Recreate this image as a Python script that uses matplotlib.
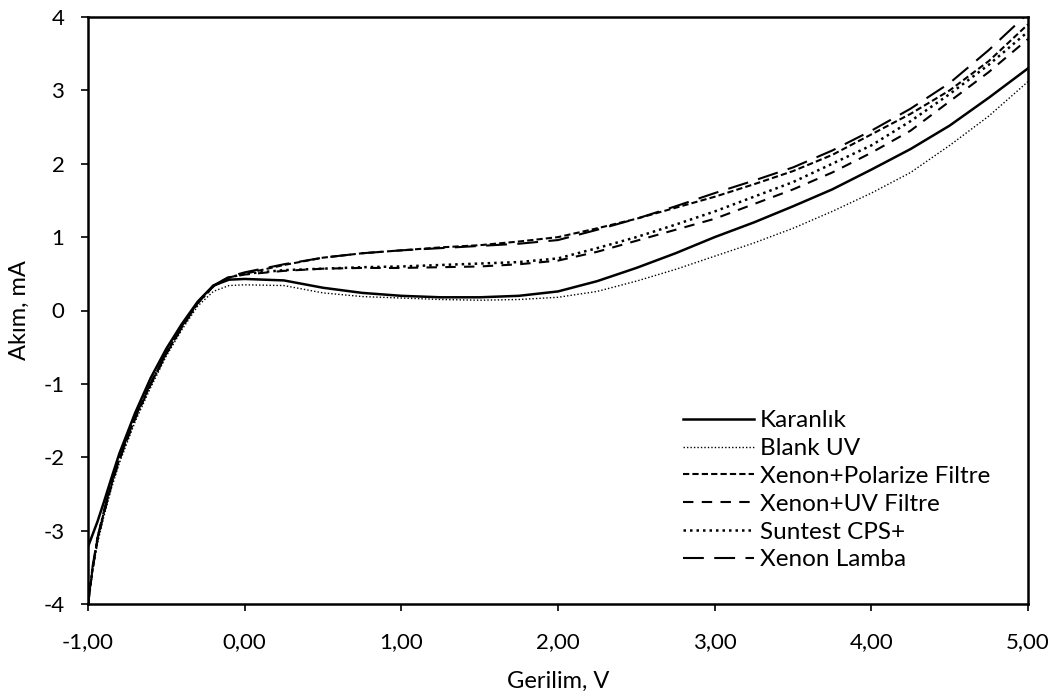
import matplotlib.pyplot as plt
from matplotlib.ticker import FuncFormatter

plt.rcParams['font.family'] = ['Lato', 'DejaVu Sans']
plt.rcParams['axes.unicode_minus'] = False

gerilim = [-1.0, -0.97, -0.94, -0.9, -0.85, -0.8, -0.7, -0.6, -0.5, -0.4, -0.3, -0.2, -0.1, 0.0,
           0.25, 0.5, 0.75, 1.0, 1.25, 1.5, 1.75, 2.0, 2.25, 2.5, 2.75, 3.0,
           3.25, 3.5, 3.75, 4.0, 4.25, 4.5, 4.75, 5.0]

karanlik = [-3.22, -3.05, -2.88, -2.62, -2.28, -1.95, -1.4, -0.92, -0.52, -0.18, 0.12, 0.34, 0.42, 0.43,
            0.41, 0.31, 0.24, 0.2, 0.18, 0.18, 0.2, 0.26, 0.4, 0.58, 0.78, 1.0,
            1.2, 1.42, 1.65, 1.92, 2.2, 2.52, 2.9, 3.3]
blank_uv = [-4.0, -3.55, -3.18, -2.82, -2.42, -2.08, -1.52, -1.05, -0.62, -0.26, 0.06, 0.26, 0.34, 0.35,
            0.34, 0.24, 0.19, 0.17, 0.15, 0.14, 0.15, 0.18, 0.26, 0.4, 0.56, 0.74,
            0.92, 1.12, 1.35, 1.6, 1.88, 2.25, 2.65, 3.12]
polarize = [-4.0, -3.5, -3.12, -2.76, -2.36, -2.02, -1.46, -1.0, -0.58, -0.22, 0.1, 0.33, 0.45, 0.5,
            0.62, 0.72, 0.78, 0.82, 0.86, 0.89, 0.94, 1.0, 1.12, 1.25, 1.4, 1.55,
            1.72, 1.9, 2.12, 2.4, 2.68, 3.0, 3.4, 3.9]
uv_filtre = [-4.0, -3.52, -3.14, -2.78, -2.38, -2.04, -1.48, -1.01, -0.59, -0.23, 0.1, 0.33, 0.45, 0.49,
             0.54, 0.57, 0.58, 0.58, 0.59, 0.6, 0.63, 0.68, 0.8, 0.95, 1.1, 1.25,
             1.45, 1.65, 1.88, 2.15, 2.45, 2.85, 3.25, 3.7]
suntest = [-4.0, -3.5, -3.12, -2.76, -2.36, -2.02, -1.46, -1.0, -0.58, -0.22, 0.1, 0.33, 0.45, 0.5,
           0.55, 0.57, 0.59, 0.6, 0.62, 0.64, 0.66, 0.71, 0.85, 1.0, 1.17, 1.35,
           1.55, 1.75, 2.0, 2.25, 2.58, 2.95, 3.35, 3.8]
xenon_lamba = [-4.0, -3.48, -3.1, -2.74, -2.34, -2.0, -1.45, -0.99, -0.57, -0.21, 0.11, 0.34, 0.46, 0.52,
               0.63, 0.72, 0.78, 0.82, 0.85, 0.88, 0.91, 0.96, 1.1, 1.25, 1.42, 1.6,
               1.77, 1.95, 2.18, 2.45, 2.75, 3.1, 3.55, 4.05]

fig = plt.figure(figsize=(10.59, 6.98), dpi=100)
ax = fig.add_axes([88 / 1059, 94 / 698, 940 / 1059, 587 / 698])

ax.plot(gerilim, karanlik, color='black', lw=1.8, ls='-', label='Karanlık')
ax.plot(gerilim, blank_uv, color='black', lw=1.0, ls=(0, (1, 1.5)), label='Blank UV')
ax.plot(gerilim, polarize, color='black', lw=1.5, ls=(0, (3, 1.5)), label='Xenon+Polarize Filtre')
ax.plot(gerilim, uv_filtre, color='black', lw=1.5, ls=(0, (5, 4)), label='Xenon+UV Filtre')
ax.plot(gerilim, suntest, color='black', lw=1.8, ls=(0, (1, 1.6)), label='Suntest CPS+')
ax.plot(gerilim, xenon_lamba, color='black', lw=1.5, ls=(0, (10, 5)), label='Xenon Lamba')

ax.set_xlim(-1, 5)
ax.set_ylim(-4, 4)
ax.set_xticks(range(-1, 6))
ax.set_yticks(range(-4, 5))
ax.xaxis.set_major_formatter(FuncFormatter(lambda v, p: f'{v:.2f}'.replace('.', ',')))
ax.tick_params(direction='out', length=5, width=1.2, labelsize=16)
ax.tick_params(axis='x', pad=15)
ax.tick_params(axis='y', pad=12)
for s in ax.spines.values():
    s.set_linewidth(1.8)

ax.set_xlabel('Gerilim, V', fontsize=17, labelpad=14)
ax.set_ylabel('Akım, mA', fontsize=17, labelpad=10)

ax.legend(loc='lower right', bbox_to_anchor=(0.983, 0.02), frameon=False, fontsize=17.5,
          handlelength=2.9, handletextpad=0.25, labelspacing=0.28)

fig.savefig('out.png', dpi=100)
